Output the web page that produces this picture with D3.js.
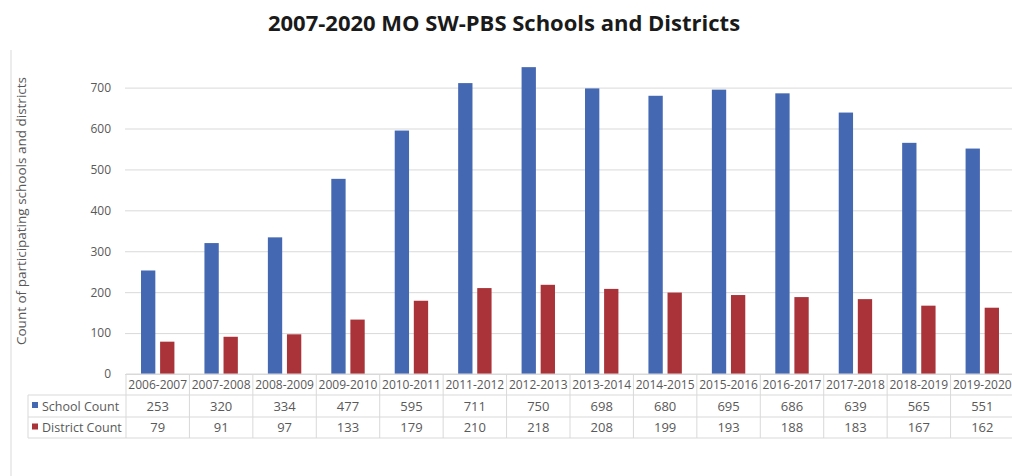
<!DOCTYPE html>
<html>
<head>
<meta charset="utf-8">
<script src="https://cdn.jsdelivr.net/npm/d3@7"></script>
<style>
  body { margin: 0; background: #fff; }
  text { font-family: "Open Sans", sans-serif; }
</style>
</head>
<body>
<div id="chart-area"></div>
<script>
// data
var years = ["2006-2007","2007-2008","2008-2009","2009-2010","2010-2011","2011-2012","2012-2013",
             "2013-2014","2014-2015","2015-2016","2016-2017","2017-2018","2018-2019","2019-2020"];
var schoolCount   = [253, 320, 334, 477, 595, 711, 750, 698, 680, 695, 686, 639, 565, 551];
var districtCount = [79, 91, 97, 133, 179, 210, 218, 208, 199, 193, 188, 183, 167, 162];
var seriesNames = ["School Count", "District Count"];
var seriesColors = ["#4568B2", "#A93339"];
var yTicks = [0, 100, 200, 300, 400, 500, 600, 700];

var W = 1012, H = 476;
var plotLeft = 126, plotRight = 1014, plotTop = 87.6, plotBottom = 374;
var rowY = [374, 395, 417, 438];

var svg = d3.select("#chart-area")
    .append("svg")
        .attr("width", W)
        .attr("height", H);

// Title
svg.append("text")
    .attr("x", 504)
    .attr("y", 31)
    .attr("text-anchor", "middle")
    .attr("font-size", "22px")
    .attr("font-weight", "bold")
    .attr("fill", "#1a1a1a")
    .text("2007-2020 MO SW-PBS Schools and Districts");

// frame line on the left
svg.append("line")
    .attr("x1", 11).attr("x2", 11)
    .attr("y1", 50).attr("y2", H)
    .attr("stroke", "#d9d9d9");

// Scales
var x0 = d3.scaleBand()
    .domain(years)
    .range([plotLeft, plotRight]);

var bw = x0.bandwidth();
var x1 = d3.scaleBand()
    .domain(seriesNames)
    .range([bw / 2 - 16.7, bw / 2 + 16.7])
    .paddingInner(0.25);

var y = d3.scaleLinear()
    .domain([0, 700])
    .range([plotBottom, plotTop]);

// Y axis with grid
var yAxisCall = d3.axisLeft(y)
    .tickValues(yTicks)
    .tickSize(-(W - plotLeft + 1))
    .tickPadding(14);
var yAxis = svg.append("g")
    .attr("class", "y axis")
    .attr("transform", "translate(" + (plotLeft - 1) + ",0)")
    .call(yAxisCall);
yAxis.select(".domain").remove();
yAxis.selectAll("line").attr("stroke", "#d9d9d9");
yAxis.selectAll("text")
    .attr("font-size", "12px")
    .attr("fill", "#595959")
    .style("font-family", "Open Sans, sans-serif");

// Y label
svg.append("text")
    .attr("transform", "rotate(-90)")
    .attr("x", -211)
    .attr("y", 26)
    .attr("text-anchor", "middle")
    .attr("font-size", "13.5px")
    .attr("fill", "#595959")
    .text("Count of participating schools and districts");

// Bars
var seriesData = [schoolCount, districtCount];
var groups = svg.selectAll("g.series")
    .data(seriesNames)
    .enter().append("g")
        .attr("class", "series")
        .attr("fill", function(d, i){ return seriesColors[i]; });

groups.selectAll("rect")
    .data(function(d, i){
        return years.map(function(yr, j){ return { year: yr, s: d, v: seriesData[i][j] }; });
    })
    .enter().append("rect")
        .attr("x", function(d){ return x0(d.year) + x1(d.s); })
        .attr("width", x1.bandwidth())
        .attr("y", function(d){ return y(d.v); })
        .attr("height", function(d){ return y(0) - y(d.v); });

// Data table
var tbl = svg.append("g").attr("class", "table");
var lineColor = "#d9d9d9";

// horizontal lines
tbl.append("line")
    .attr("x1", plotLeft).attr("x2", plotRight)
    .attr("y1", rowY[0]).attr("y2", rowY[0])
    .attr("stroke", lineColor);
rowY.slice(1).forEach(function(ry){
    tbl.append("line")
        .attr("x1", 28).attr("x2", plotRight)
        .attr("y1", ry).attr("y2", ry)
        .attr("stroke", lineColor);
});

// vertical lines
var edges = years.map(function(d){ return x0(d); }).concat([plotRight]);
edges.forEach(function(ex){
    tbl.append("line")
        .attr("x1", ex).attr("x2", ex)
        .attr("y1", rowY[0]).attr("y2", rowY[3])
        .attr("stroke", lineColor);
});
tbl.append("line")
    .attr("x1", 28).attr("x2", 28)
    .attr("y1", rowY[1]).attr("y2", rowY[3])
    .attr("stroke", lineColor);

// header labels
tbl.selectAll("text.hdr")
    .data(years)
    .enter().append("text")
        .attr("class", "hdr")
        .attr("x", function(d){ return x0(d) + bw / 2; })
        .attr("y", (rowY[0] + rowY[1]) / 2 + 4.5)
        .attr("text-anchor", "middle")
        .attr("font-size", "12px")
        .attr("fill", "#595959")
        .text(function(d){ return d; });

// value rows
seriesNames.forEach(function(s, i){
    var cy = (rowY[i + 1] + rowY[i + 2]) / 2 + 4.5;
    tbl.append("rect")
        .attr("x", 32).attr("y", cy - 8.5)
        .attr("width", 6).attr("height", 6)
        .attr("fill", seriesColors[i]);
    tbl.append("text")
        .attr("x", 42).attr("y", cy)
        .attr("font-size", "12.5px")
        .attr("fill", "#595959")
        .text(s);
    tbl.selectAll("text.v" + i)
        .data(seriesData[i])
        .enter().append("text")
            .attr("class", "v" + i)
            .attr("x", function(d, j){ return x0(years[j]) + bw / 2; })
            .attr("y", cy)
            .attr("text-anchor", "middle")
            .attr("font-size", "13px")
            .attr("fill", "#595959")
            .text(function(d){ return d; });
});
</script>
</body>
</html>
